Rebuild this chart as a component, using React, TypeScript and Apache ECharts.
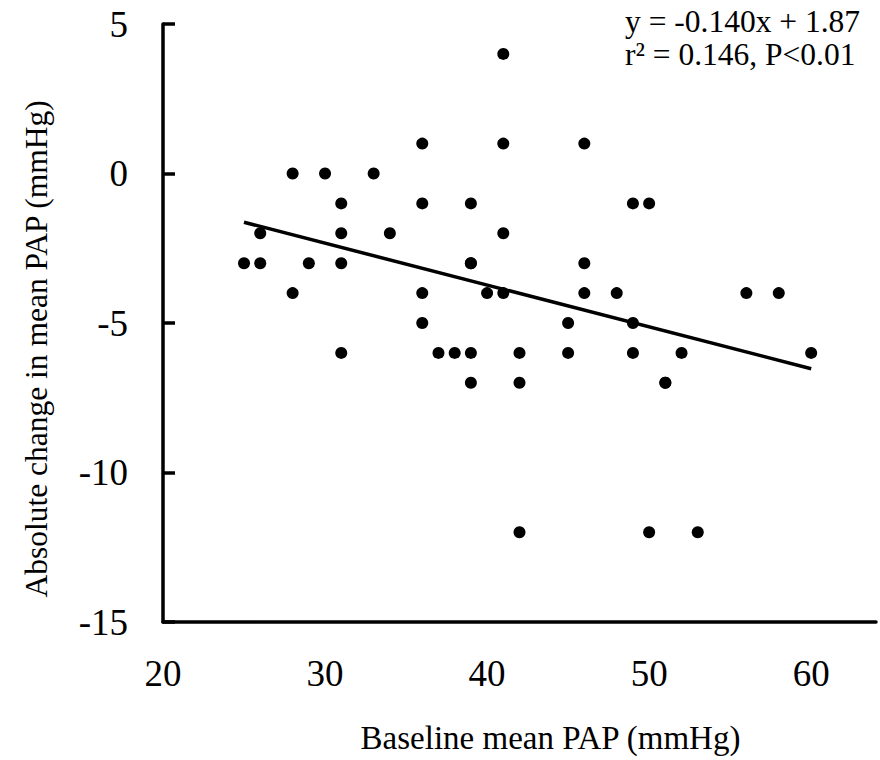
import React, { useEffect, useRef } from "react";
import * as echarts from "echarts";

const baselinePAP = [
  41,
  36, 41, 46,
  28, 30, 33,
  31, 36, 39, 49, 50,
  26, 31, 34, 41,
  25, 26, 29, 31, 39, 39, 46,
  28, 36, 40, 41, 46, 48, 56, 58,
  36, 45, 49,
  31, 37, 38, 39, 42, 45, 49, 52, 60,
  39, 42, 51, 51,
  42, 50, 53,
];
const changePAP = [
  4,
  1, 1, 1,
  0, 0, 0,
  -1, -1, -1, -1, -1,
  -2, -2, -2, -2,
  -3, -3, -3, -3, -3, -3, -3,
  -4, -4, -4, -4, -4, -4, -4, -4,
  -5, -5, -5,
  -6, -6, -6, -6, -6, -6, -6, -6, -6,
  -7, -7, -7, -7,
  -12, -12, -12,
];
const SLOPE = -0.14;
const INTERCEPT = 1.87;
const xTicks = [20, 30, 40, 50, 60];
const yTicks = [5, 0, -5, -10, -15];
const equationLines = ["y = -0.140x + 1.87", "r\u00B2 = 0.146, P<0.01"];
const xTitle = "Baseline mean PAP (mmHg)";
const yTitle = "Absolute change in mean PAP (mmHg)";

const FONT = "'Liberation Serif', 'Times New Roman', serif";

export default function App() {
  const ref = useRef<HTMLDivElement>(null);
  useEffect(() => {
    if (!ref.current) return;
    const chart = echarts.init(ref.current, null, { renderer: "svg" });
    const points = baselinePAP.map((x, i) => [x, changePAP[i]]);
    const xMin = Math.min(...baselinePAP);
    const xMax = Math.max(...baselinePAP);
    const fit = [
      [xMin, INTERCEPT + SLOPE * xMin],
      [xMax, INTERCEPT + SLOPE * xMax],
    ];
    chart.setOption({
      animation: false,
      backgroundColor: "#ffffff",
      grid: { left: 163, right: 4, top: 24, bottom: 138, containLabel: false },
      xAxis: {
        type: "value",
        min: 20,
        max: 64,
        interval: 10,
        name: xTitle,
        nameLocation: "middle",
        nameGap: 99,
        nameTextStyle: {
          fontFamily: FONT,
          fontSize: 33,
          color: "#000",
          padding: [0, 0, 0, 62],
        },
        axisLine: { show: true, onZero: false, lineStyle: { color: "#000", width: 3.5 } },
        axisTick: { show: false },
        splitLine: { show: false },
        axisLabel: {
          margin: 33,
          fontFamily: FONT,
          fontSize: 37,
          color: "#000",
          showMaxLabel: false,
          formatter: (v: number) => (xTicks.includes(v) ? String(v) : ""),
        },
      },
      yAxis: {
        type: "value",
        min: -15,
        max: 5,
        interval: 5,
        name: yTitle,
        nameLocation: "middle",
        nameGap: 111,
        nameTextStyle: {
          fontFamily: FONT,
          fontSize: 31.5,
          color: "#000",
          padding: [0, 52, 0, 0],
        },
        axisLine: { show: true, onZero: false, lineStyle: { color: "#000", width: 3.5 } },
        axisTick: { show: true, inside: true, length: 12, lineStyle: { color: "#000", width: 3.5 } },
        splitLine: { show: false },
        axisLabel: {
          margin: 35,
          fontFamily: FONT,
          fontSize: 37,
          color: "#000",
          formatter: (v: number) => (yTicks.includes(v) ? String(v) : ""),
        },
      },
      graphic: [
        {
          type: "text",
          left: 625,
          top: 5,
          style: {
            text: equationLines.join("\n"),
            font: `31.5px ${FONT}`,
            fill: "#000",
            lineHeight: 33,
          },
        },
      ],
      series: [
        {
          type: "scatter",
          data: points,
          symbol: "circle",
          symbolSize: 12,
          itemStyle: { color: "#000", opacity: 1 },
          z: 3,
        },
        {
          type: "line",
          data: fit,
          symbol: "none",
          lineStyle: { color: "#000", width: 3.5 },
          z: 2,
        },
      ],
    });
    return () => chart.dispose();
  }, []);
  return (
    <div
      ref={ref}
      style={{ position: "fixed", left: 0, top: 0, width: 880, height: 760, background: "#fff" }}
    />
  );
}
